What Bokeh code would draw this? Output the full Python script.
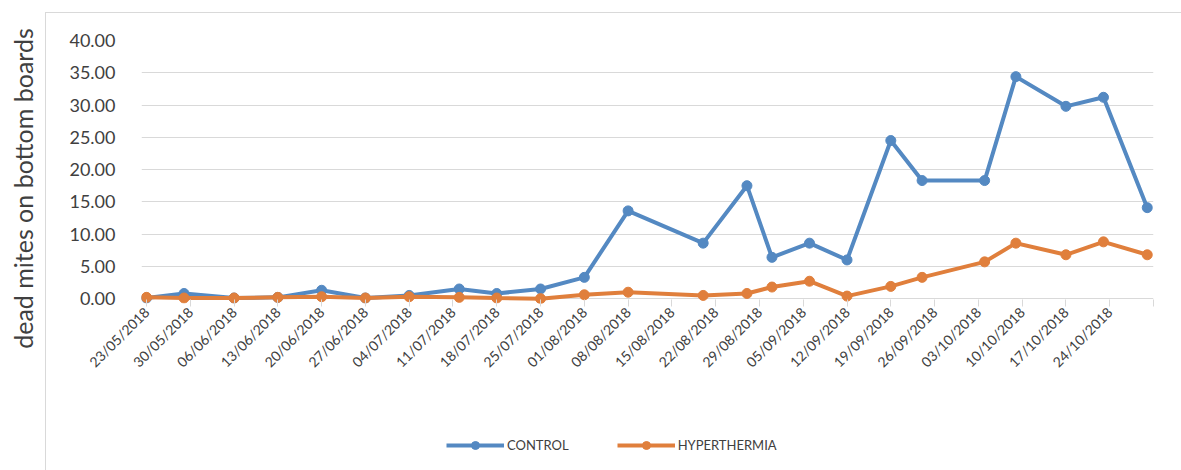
import math
import pandas as pd
from bokeh.plotting import figure
from bokeh.models import (Range1d, FixedTicker, NumeralTickFormatter, Legend, LegendItem,
                          Spacer, ColumnDataSource, Label)
from bokeh.layouts import row, column
from bokeh.embed import file_html
from bokeh.resources import INLINE

# ---------------- data ----------------
dates = ["2018-05-23", "2018-05-29", "2018-06-06", "2018-06-13", "2018-06-20", "2018-06-27",
         "2018-07-04", "2018-07-12", "2018-07-18", "2018-07-25", "2018-08-01", "2018-08-08",
         "2018-08-20", "2018-08-27", "2018-08-31", "2018-09-06", "2018-09-12", "2018-09-19",
         "2018-09-24", "2018-10-04", "2018-10-09", "2018-10-17", "2018-10-23", "2018-10-30"]
control = [0.1, 0.8, 0.1, 0.2, 1.3, 0.1, 0.5, 1.5, 0.8, 1.5, 3.3, 13.6,
           8.6, 17.5, 6.4, 8.6, 6.0, 24.5, 18.3, 18.3, 34.4, 29.8, 31.2, 14.1]
hyperthermia = [0.2, 0.1, 0.1, 0.2, 0.3, 0.1, 0.3, 0.2, 0.1, 0.0, 0.6, 1.0,
                0.5, 0.8, 1.8, 2.7, 0.4, 1.9, 3.3, 5.7, 8.6, 6.8, 8.8, 6.8]
tick_dates = ["2018-05-23", "2018-05-30", "2018-06-06", "2018-06-13", "2018-06-20", "2018-06-27",
              "2018-07-04", "2018-07-11", "2018-07-18", "2018-07-25", "2018-08-01", "2018-08-08",
              "2018-08-15", "2018-08-22", "2018-08-29", "2018-09-05", "2018-09-12", "2018-09-19",
              "2018-09-26", "2018-10-03", "2018-10-10", "2018-10-17", "2018-10-24", "2018-10-31"]
tick_labels = ["23/05/2018", "30/05/2018", "06/06/2018", "13/06/2018", "20/06/2018", "27/06/2018",
               "04/07/2018", "11/07/2018", "18/07/2018", "25/07/2018", "01/08/2018", "08/08/2018",
               "15/08/2018", "22/08/2018", "29/08/2018", "05/09/2018", "12/09/2018", "19/09/2018",
               "26/09/2018", "03/10/2018", "10/10/2018", "17/10/2018", "24/10/2018", ""]
y_ticks = [0, 5, 10, 15, 20, 25, 30, 35, 40]
series_names = ["CONTROL", "HYPERTHERMIA"]
y_title = "dead mites on bottom boards"

BLUE = "#5489c2"
ORANGE = "#e07f3c"
TEXT = "#404040"
GRID = "#d9d9d9"
FONT = "Lato"
BORDER = "1px solid #d9d9d9"

start = pd.Timestamp(dates[0])
day = [(pd.Timestamp(d) - start).days for d in dates]
tick_days = [(pd.Timestamp(d) - start).days for d in tick_dates]

src = ColumnDataSource(dict(day=day, control=control, hyper=hyperthermia))


def add_series(fig):
    a = fig.line("day", "control", source=src, line_color=BLUE, line_width=4)
    b = fig.scatter("day", "control", source=src, size=10, fill_color=BLUE, line_color=BLUE)
    c = fig.line("day", "hyper", source=src, line_color=ORANGE, line_width=4)
    d = fig.scatter("day", "hyper", source=src, size=10, fill_color=ORANGE, line_color=ORANGE)
    return a, b, c, d


# ---------------- main chart ----------------
p = figure(width=1136, height=410, output_backend="svg", toolbar_location=None,
           x_range=Range1d(-0.8, 161), y_range=Range1d(-0.75, 40),
           min_border_left=95, min_border_right=29, min_border_top=27, min_border_bottom=120)
p.outline_line_color = None
add_series(p)

p.xgrid.visible = False
p.ygrid.ticker = FixedTicker(ticks=y_ticks)
p.ygrid.grid_line_color = GRID
p.ygrid.grid_line_width = 1

xa = p.xaxis[0]
xa.ticker = FixedTicker(ticks=tick_days)
xa.major_label_overrides = {d: lab for d, lab in zip(tick_days, tick_labels)}
xa.major_label_orientation = math.pi / 4
xa.axis_line_color = None
xa.major_tick_line_color = GRID
xa.major_tick_in = 4
xa.major_tick_out = 3
xa.minor_tick_line_color = None
xa.major_label_standoff = 3
xa.major_label_text_font = FONT
xa.major_label_text_font_size = "14px"
xa.major_label_text_color = TEXT

ya = p.yaxis[0]
ya.ticker = FixedTicker(ticks=y_ticks)
ya.formatter = NumeralTickFormatter(format="0.00")
ya.axis_line_color = None
ya.major_tick_line_color = None
ya.minor_tick_line_color = None
ya.major_label_standoff = 20
ya.major_label_text_font = FONT
ya.major_label_text_font_size = "18px"
ya.major_label_text_color = TEXT
p.styles = {"border-top": BORDER, "border-left": BORDER}

# ---------------- legend strip (series drawn off-range, only the legend shows) ----------------
lf = figure(width=1136, height=48, output_backend="svg", toolbar_location=None,
            x_range=Range1d(-1000, -999), y_range=Range1d(-1000, -999),
            x_axis_location=None, y_axis_location=None, min_border=0)
lf.grid.visible = False
lf.outline_line_color = None
l1, m1, l2, m2 = add_series(lf)
legend = Legend(items=[LegendItem(label=series_names[0], renderers=[l1, m1]),
                       LegendItem(label=series_names[1], renderers=[l2, m2])],
                orientation="horizontal", location=(305, 15),
                border_line_color=None, background_fill_alpha=0,
                padding=0, margin=0, spacing=48, glyph_width=58, glyph_height=20,
                label_height=20, label_standoff=3, label_text_font=FONT,
                label_text_font_size="13px", label_text_color=TEXT)
lf.add_layout(legend)
lf.styles = {"border-left": BORDER}

# ---------------- y title panel ----------------
t = figure(width=45, height=470, output_backend="svg", toolbar_location=None,
           x_range=Range1d(0, 45), y_range=Range1d(0, 470),
           x_axis_location=None, y_axis_location=None, min_border=0)
t.grid.visible = False
t.outline_line_color = None
t.add_layout(Label(x=22, y=282, text=y_title, angle=math.pi / 2, text_align="center",
                   text_baseline="middle", text_font=FONT, text_font_size="25px",
                   text_color=TEXT))

layout = row(t, column(Spacer(width=1136, height=12), p, lf))
open("out.html", "w").write(file_html(layout, INLINE))
